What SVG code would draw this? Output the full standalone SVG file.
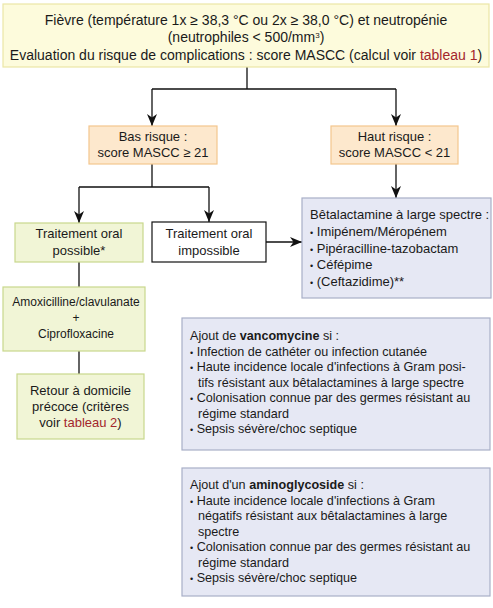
<svg xmlns="http://www.w3.org/2000/svg" width="493" height="608" viewBox="0 0 493 608">
<defs>
<style>
text{font-family:"Liberation Sans",Arial,sans-serif;font-size:13px;fill:#1a1a1a}
.c{text-anchor:middle}
.red{fill:#a3262c}
.b{font-weight:bold}
.top text{font-size:14px}
.amox text{font-size:12px}
.note text{font-size:12.6px}
.y{fill:#fdfbdc;stroke:#ebe6a6;stroke-width:1.2}
.o{fill:#fde8cd;stroke:#f3c68e;stroke-width:1.2}
.g{fill:#f1f5d6;stroke:#c9d78c;stroke-width:1.2}
.bl{fill:#e6e8f4;stroke:#a8afc7;stroke-width:1.2}
.w{fill:#fff;stroke:#111;stroke-width:1.2}
.ln{fill:none;stroke:#111;stroke-width:1.3}
.bu{font-size:9px}
</style>
<marker id="ar" viewBox="0 0 12 10" refX="12" refY="5" markerWidth="12" markerHeight="10" markerUnits="userSpaceOnUse" orient="auto">
<path d="M0,0 L12,5 L0,10 L3.5,5 z" fill="#111"/>
</marker>
</defs>
<g id="connectors">
<path class="ln" d="M247,67 V89 M152,89 H396"/>
<path class="ln" d="M152,89 V126" marker-end="url(#ar)"/>
<path class="ln" d="M396,89 V126" marker-end="url(#ar)"/>
<path class="ln" d="M152,164 V187 M79,187 H209"/>
<path class="ln" d="M79,187 V223" marker-end="url(#ar)"/>
<path class="ln" d="M209,187 V222" marker-end="url(#ar)"/>
<path class="ln" d="M396,164 V198" marker-end="url(#ar)"/>
<path class="ln" d="M266,242 H302" marker-end="url(#ar)"/>
<path class="ln" d="M79,262 V287"/>
<path class="ln" d="M79,351 V374"/>
</g>
<g id="fievre" class="top">
<rect class="y" x="3" y="4" width="486" height="63"/>
<text class="c" x="246" y="25">Fièvre (température 1x ≥ 38,3 °C ou 2x ≥ 38,0 °C) et neutropénie</text>
<text class="c" x="246" y="42">(neutrophiles &lt; 500/mm<tspan font-size="8" dy="-4">3</tspan><tspan dy="4">)</tspan></text>
<text class="c" x="246" y="60">Evaluation du risque de complications : score MASCC (calcul voir <tspan class="red">tableau 1</tspan>)</text>
</g>
<g id="bas">
<rect class="o" x="89" y="126" width="128" height="38"/>
<text class="c" x="153" y="141">Bas risque :</text>
<text class="c" x="153" y="157">score MASCC ≥ 21</text>
</g>
<g id="haut">
<rect class="o" x="331" y="126" width="127" height="38"/>
<text class="c" x="394.5" y="141">Haut risque :</text>
<text class="c" x="394.5" y="157">score MASCC &lt; 21</text>
</g>
<g id="possible">
<rect class="g" x="15" y="223" width="128" height="39"/>
<text class="c" x="79" y="238">Traitement oral</text>
<text class="c" x="79" y="255">possible*</text>
</g>
<g id="impossible">
<rect class="w" x="152" y="222" width="114" height="40"/>
<text class="c" x="209" y="238">Traitement oral</text>
<text class="c" x="209" y="255">impossible</text>
</g>
<g id="beta">
<rect class="bl" x="302" y="198" width="189" height="100"/>
<text x="310" y="219">Bêtalactamine à large spectre :</text>
<text x="310" y="236"><tspan class="bu">•</tspan> Imipénem/Méropénem</text>
<text x="310" y="253"><tspan class="bu">•</tspan> Pipéracilline-tazobactam</text>
<text x="310" y="269"><tspan class="bu">•</tspan> Céfépime</text>
<text x="310" y="286"><tspan class="bu">•</tspan> (Ceftazidime)**</text>
</g>
<g id="amox" class="amox">
<rect class="g" x="3" y="287" width="142" height="64"/>
<text class="c" x="76" y="306">Amoxicilline/clavulanate</text>
<text class="c" x="76" y="322">+</text>
<text class="c" x="76" y="338">Ciprofloxacine</text>
</g>
<g id="retour">
<rect class="g" x="17" y="374" width="127" height="65"/>
<text class="c" x="80.5" y="395">Retour à domicile</text>
<text class="c" x="80.5" y="411">précoce (critères</text>
<text class="c" x="80.5" y="427">voir <tspan class="red">tableau 2</tspan>)</text>
</g>
<g id="vanco" class="note">
<rect class="bl" x="182" y="318" width="308" height="132"/>
<text x="190" y="340">Ajout de <tspan class="b">vancomycine</tspan> si :</text>
<text x="190" y="355.5"><tspan class="bu">•</tspan> Infection de cathéter ou infection cutanée</text>
<text x="190" y="371"><tspan class="bu">•</tspan> Haute incidence locale d'infections à Gram posi-</text>
<text x="198" y="386.5">tifs résistant aux bêtalactamines à large spectre</text>
<text x="190" y="402"><tspan class="bu">•</tspan> Colonisation connue par des germes résistant au</text>
<text x="198" y="417.5">régime standard</text>
<text x="190" y="433"><tspan class="bu">•</tspan> Sepsis sévère/choc septique</text>
</g>
<g id="amino" class="note">
<rect class="bl" x="182" y="468" width="308" height="128"/>
<text x="190" y="489">Ajout d'un <tspan class="b">aminoglycoside</tspan> si :</text>
<text x="190" y="504.5"><tspan class="bu">•</tspan> Haute incidence locale d'infections à Gram</text>
<text x="198" y="520">négatifs résistant aux bêtalactamines à large</text>
<text x="198" y="535.5">spectre</text>
<text x="190" y="551"><tspan class="bu">•</tspan> Colonisation connue par des germes résistant au</text>
<text x="198" y="566.5">régime standard</text>
<text x="190" y="582"><tspan class="bu">•</tspan> Sepsis sévère/choc septique</text>
</g>
</svg>
